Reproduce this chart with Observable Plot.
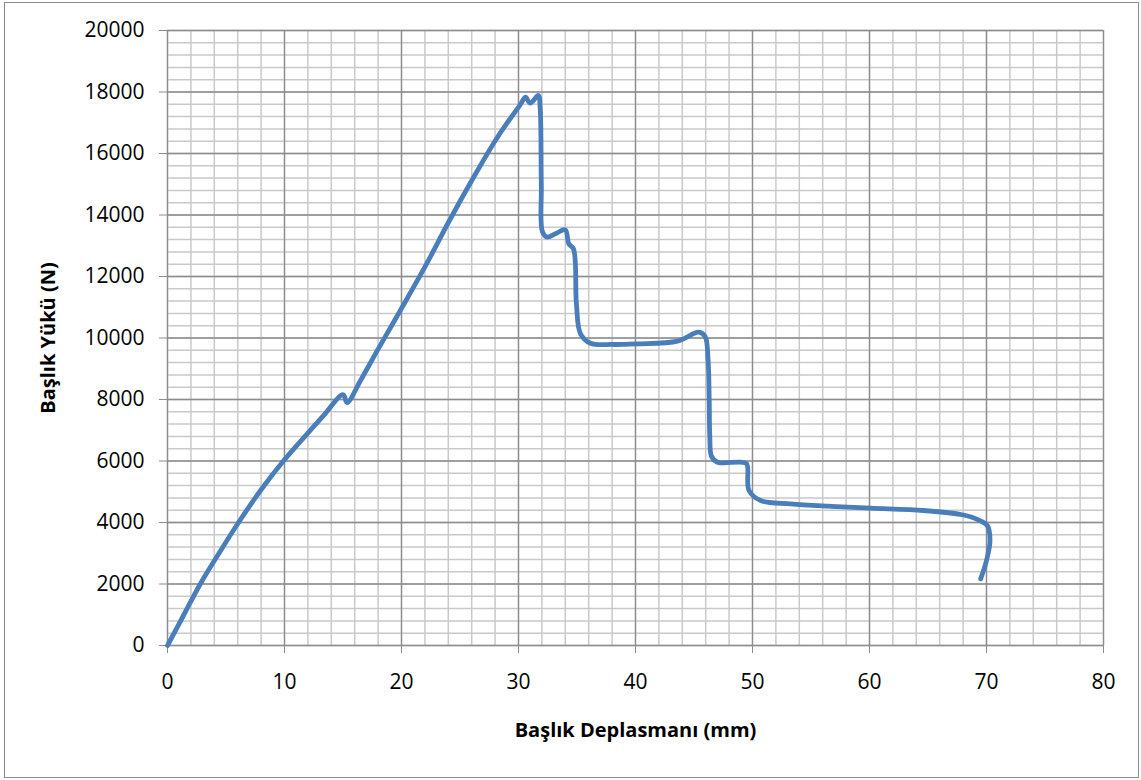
<!DOCTYPE html>
<html>
<head>
<meta charset="utf-8">
<script src="https://cdn.jsdelivr.net/npm/d3@7"></script>
<script src="https://cdn.jsdelivr.net/npm/@observablehq/plot@0.6"></script>
<style>
  html, body { margin: 0; padding: 0; background: #fff; }
  #wrap { position: relative; width: 1141px; height: 780px; overflow: hidden; }
  #border { position: absolute; left: 4px; top: 2px; width: 1133px; height: 774px; border: 1.5px solid #8a8a8a; pointer-events: none; }
</style>
</head>
<body>
<div id="wrap"><div id="chart"></div><div id="border"></div></div>
<script>
// Head displacement (mm) and head load (N)
const displacement = [0, 1.4, 2.8, 4.4, 6.0, 7.95, 9.94, 11.94, 13.5, 14.8, 15.05, 15.35, 16.5, 18.0, 20.06, 22.2, 24.04, 26.2, 28.2, 30.2, 30.6, 31.0, 31.7, 31.85, 31.95, 32.05, 32.45, 33.2, 34.0, 34.3, 34.7, 34.95, 35.3, 36.15, 38.0, 40.1, 43.6, 45.4, 45.95, 46.2, 46.3, 46.35, 46.5, 47.0, 48.97, 49.5, 49.7, 50.7, 53.25, 56.5, 60.1, 64.6, 67.8, 68.9, 70.06, 70.3, 70.0, 69.5];
const headLoad     = [0, 1000, 2000, 3000, 3960, 5040, 6016, 6884, 7550, 8130, 8150, 7900, 8620, 9640, 11003, 12450, 13780, 15250, 16530, 17617, 17830, 17637, 17886, 17500, 15000, 13450, 13280, 13400, 13518, 13062, 12900, 11110, 10136, 9831, 9790, 9810, 9897, 10190, 10050, 9300, 8000, 6800, 6150, 5962, 5962, 5908, 5041, 4715, 4607, 4530, 4466, 4390, 4260, 4150, 3902, 3415, 2764, 2168];

const xTicks = [0, 10, 20, 30, 40, 50, 60, 70, 80];
const yTicks = [0, 2000, 4000, 6000, 8000, 10000, 12000, 14000, 16000, 18000, 20000];
const xMinorStep = 2;
const yMinorStep = 400;
const xLabel = "Başlık Deplasmanı (mm)";
const yLabel = "Başlık Yükü (N)";

const curve = displacement.map((d, i) => ({x: d, y: headLoad[i]}));
const xMinor = d3.range(0, 80 + 1e-9, xMinorStep);
const yMinor = d3.range(0, 20000 + 1e-9, yMinorStep);

const font = "'Open Sans', 'Liberation Sans', sans-serif";

const chart = Plot.plot({
  width: 1141,
  height: 780,
  marginLeft: 167,
  marginRight: 38,
  marginTop: 30,
  marginBottom: 135,
  style: {fontFamily: font, background: "transparent", color: "#000"},
  x: {domain: [0, 80]},
  y: {domain: [0, 20000]},
  marks: [
    Plot.ruleX(xMinor, {stroke: "#c9c9c9", strokeWidth: 1.5}),
    Plot.ruleY(yMinor, {stroke: "#c9c9c9", strokeWidth: 1.5}),
    Plot.ruleX(xTicks, {stroke: "#8c8c8c", strokeWidth: 1.3}),
    Plot.ruleY(yTicks, {stroke: "#8c8c8c", strokeWidth: 1.3}),
    Plot.axisX({ticks: xTicks, tickFormat: d => String(d), tickSize: 8, tickPadding: 21, fontSize: 21, stroke: "#8c8c8c", label: null}),
    Plot.axisY({ticks: yTicks, tickFormat: d => String(d), tickSize: 8, tickPadding: 15, fontSize: 21, stroke: "#8c8c8c", label: null}),
    Plot.line(curve, {x: "x", y: "y", stroke: "#4a7ebb", strokeWidth: 4.8, curve: "catmull-rom", strokeLinejoin: "round", strokeLinecap: "round"}),
    Plot.text([xLabel], {frameAnchor: "bottom", dy: 91, fontWeight: "bold", fontSize: 20, fill: "#000"}),
    Plot.text([yLabel], {frameAnchor: "left", textAnchor: "middle", dx: -119, rotate: -90, fontWeight: "bold", fontSize: 20, fill: "#000"})
  ]
});
document.getElementById("chart").appendChild(chart);
</script>
</body>
</html>
